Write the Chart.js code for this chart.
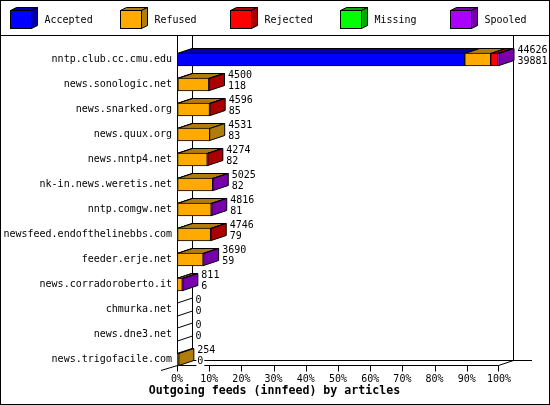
<!DOCTYPE html>
<html><head><meta charset="utf-8">
<style>html,body{margin:0;padding:0;background:#fff}canvas{display:block}</style>
<script src="https://cdn.jsdelivr.net/npm/chart.js@4"></script>
</head><body><canvas id="c" width="550" height="405" style="width:550px;height:405px"></canvas>
<script>
const hosts=["nntp.club.cc.cmu.edu","news.sonologic.net","news.snarked.org","news.quux.org","news.nntp4.net","nk-in.news.weretis.net","nntp.comgw.net","newsfeed.endofthelinebbs.com","feeder.erje.net","news.corradoroberto.it","chmurka.net","news.dne3.net","news.trigofacile.com"];
const offered=[44626,4500,4596,4531,4274,5025,4816,4746,3690,811,0,0,254];
const acceptedCount=[39881,118,85,83,82,82,81,79,59,6,0,0,0];
const accepted=[39881,118,85,83,82,82,81,79,59,6,0,0,0];
const refused=[3590,4290,4420,4448,4110,4870,4660,4580,3560,730,0,0,254];
const rejected=[1000,92,91,0,82,0,0,87,0,0,0,0,0];
const missing=[0,0,0,0,0,0,0,0,0,0,0,0,0];
const spooled=[155,0,0,0,0,73,75,0,71,75,0,0,0];
const maxArticles=44626;
const seriesNames=["Accepted","Refused","Rejected","Missing","Spooled"];
const faceColors=["#0000ff","#ffaa00","#ff0000","#00ff00","#aa00ff"];
const shadeColors=["#0000aa","#b07c0c","#aa0000","#00aa00","#7700aa"];
const xTitle="Outgoing feeds (innfeed) by articles";
const MONO='"DejaVu Sans Mono"';
const DX=15,DY=-5;
function poly(ctx,pts,fill){
  ctx.beginPath();pts.forEach((p,i)=>i?ctx.lineTo(p[0],p[1]):ctx.moveTo(p[0],p[1]));ctx.closePath();
  if(fill){ctx.fillStyle=fill;ctx.fill();}
  ctx.strokeStyle='#000';ctx.lineWidth=1;ctx.stroke();
}
function line(ctx,a,b,c,d){ctx.beginPath();ctx.moveTo(a,b);ctx.lineTo(c,d);ctx.strokeStyle='#000';ctx.lineWidth=1;ctx.stroke();}
const threeD={
  id:'threeD',
  beforeDraw(chart){
    const ctx=chart.ctx;
    ctx.save();ctx.fillStyle='#fff';ctx.fillRect(0,0,550,405);
    ctx.strokeStyle='#000';ctx.lineWidth=1;ctx.strokeRect(.5,.5,549,404);
    line(ctx,0,35.5,550,35.5);
    ctx.font='10px '+MONO;ctx.textBaseline='middle';
    chart.data.datasets.forEach((d,i)=>{
      const x=10.5+i*110,y=10.5,w=21,h=18,dx=6,dy=-3;
      poly(ctx,[[x,y],[x+dx,y+dy],[x+w+dx,y+dy],[x+w,y]],shadeColors[i]);
      poly(ctx,[[x+w,y],[x+w+dx,y+dy],[x+w+dx,y+h+dy],[x+w,y+h]],shadeColors[i]);
      ctx.fillStyle=d.backgroundColor;ctx.fillRect(x,y,w,h);ctx.strokeRect(x,y,w,h);
      ctx.fillStyle='#000';ctx.textAlign='left';ctx.fillText(d.label,x+34,20.5);
    });
    ctx.font='bold 11.6px '+MONO;ctx.textAlign='center';
    ctx.fillStyle='#000';ctx.fillText(xTitle,274.5,391);
    ctx.restore();
  },
  beforeDatasetsDraw(chart){
    const ctx=chart.ctx,xs=chart.scales.x,ys=chart.scales.y;
    const x0=Math.round(xs.getPixelForValue(0))+.5,x1=Math.round(xs.getPixelForValue(maxArticles))-.5;
    const fy=365.5,by=fy+DY;
    ctx.save();
    line(ctx,x0,36,x0,fy);
    line(ctx,x0+DX,36,x0+DX,by);
    line(ctx,x1+DX,36,x1+DX,by);
    line(ctx,x0+DX,by,532,by);
    line(ctx,x0,fy,x1,fy);
    line(ctx,x1,fy,x1+DX,by);
    line(ctx,161,fy+5,x0,fy);
    xs.ticks.forEach(t=>{const px=Math.round(xs.getPixelForValue(t.value))+.5;line(ctx,px>x1?x1:px,fy,px>x1?x1:px,fy+6);});
    hosts.forEach((h,r)=>{
      const cy=ys.getPixelForValue(r);
      let last=null;
      chart.data.datasets.forEach((d,i)=>{
        const el=chart.getDatasetMeta(i).data[r],v=d.data[r];
        if(!v)return;
        const l=el.base,ri=el.x,top=cy-6;
        poly(ctx,[[l,top],[l+DX,top+DY],[ri+DX,top+DY],[ri,top]],shadeColors[i]);
        last={ri,top,i};
      });
      if(last){
        poly(ctx,[[last.ri,last.top],[last.ri+DX,last.top+DY],[last.ri+DX,last.top+12+DY],[last.ri,last.top+12]],shadeColors[last.i]);
      }else{
        line(ctx,x0,cy-6.5,x0+DX,cy-6.5+DY);
        line(ctx,x0,cy+6.5,x0+DX,cy+6.5+DY);
      }
    });
    ctx.restore();
  },
  afterDatasetsDraw(chart){
    const ctx=chart.ctx,xs=chart.scales.x,ys=chart.scales.y;
    ctx.save();ctx.font='10px '+MONO;ctx.textBaseline='middle';ctx.textAlign='left';
    hosts.forEach((h,r)=>{
      const cy=ys.getPixelForValue(r),lx=xs.getPixelForValue(offered[r])+DX+3.5;
      [[offered[r],cy-9.5],[acceptedCount[r],cy+1.5]].forEach(([v,y])=>{
        const s=String(v),w=ctx.measureText(s).width;
        ctx.fillStyle='#fff';ctx.fillRect(lx-1,y-5,w+2,11);
        ctx.fillStyle='#000';ctx.fillText(s,lx,y);
      });
    });
    ctx.restore();
  }
};
new Chart(document.getElementById('c'),{
  type:'bar',
  data:{labels:hosts,datasets:[accepted,refused,rejected,missing,spooled].map((d,i)=>({
    label:seriesNames[i],data:d,backgroundColor:faceColors[i],borderColor:'#000',borderWidth:1,borderSkipped:false,barThickness:13,stack:'s'
  }))},
  plugins:[threeD],
  options:{
    indexAxis:'y',responsive:false,animation:false,devicePixelRatio:1,
    layout:{padding:{top:47,right:51,left:0,bottom:0}},
    plugins:{legend:{display:false},tooltip:{enabled:false},title:{display:false}},
    scales:{
      x:{stacked:true,min:0,max:maxArticles,afterFit(s){s.height=33;},
        grid:{display:false,drawTicks:false},border:{display:false},
        afterBuildTicks(s){s.ticks=Array.from({length:11},(_,i)=>({value:maxArticles*i/10}));},
        ticks:{autoSkip:false,maxRotation:0,padding:1,color:'#000',font:{family:MONO,size:10},callback:(v)=>Math.round(v/maxArticles*100)+'%'}
      },
      y:{stacked:true,afterFit(s){s.width=177;},
        grid:{display:false,drawTicks:false},border:{display:false},
        ticks:{autoSkip:false,padding:5,color:'#000',font:{family:MONO,size:10}}
      }
    }
  }
});
</script></body></html>
